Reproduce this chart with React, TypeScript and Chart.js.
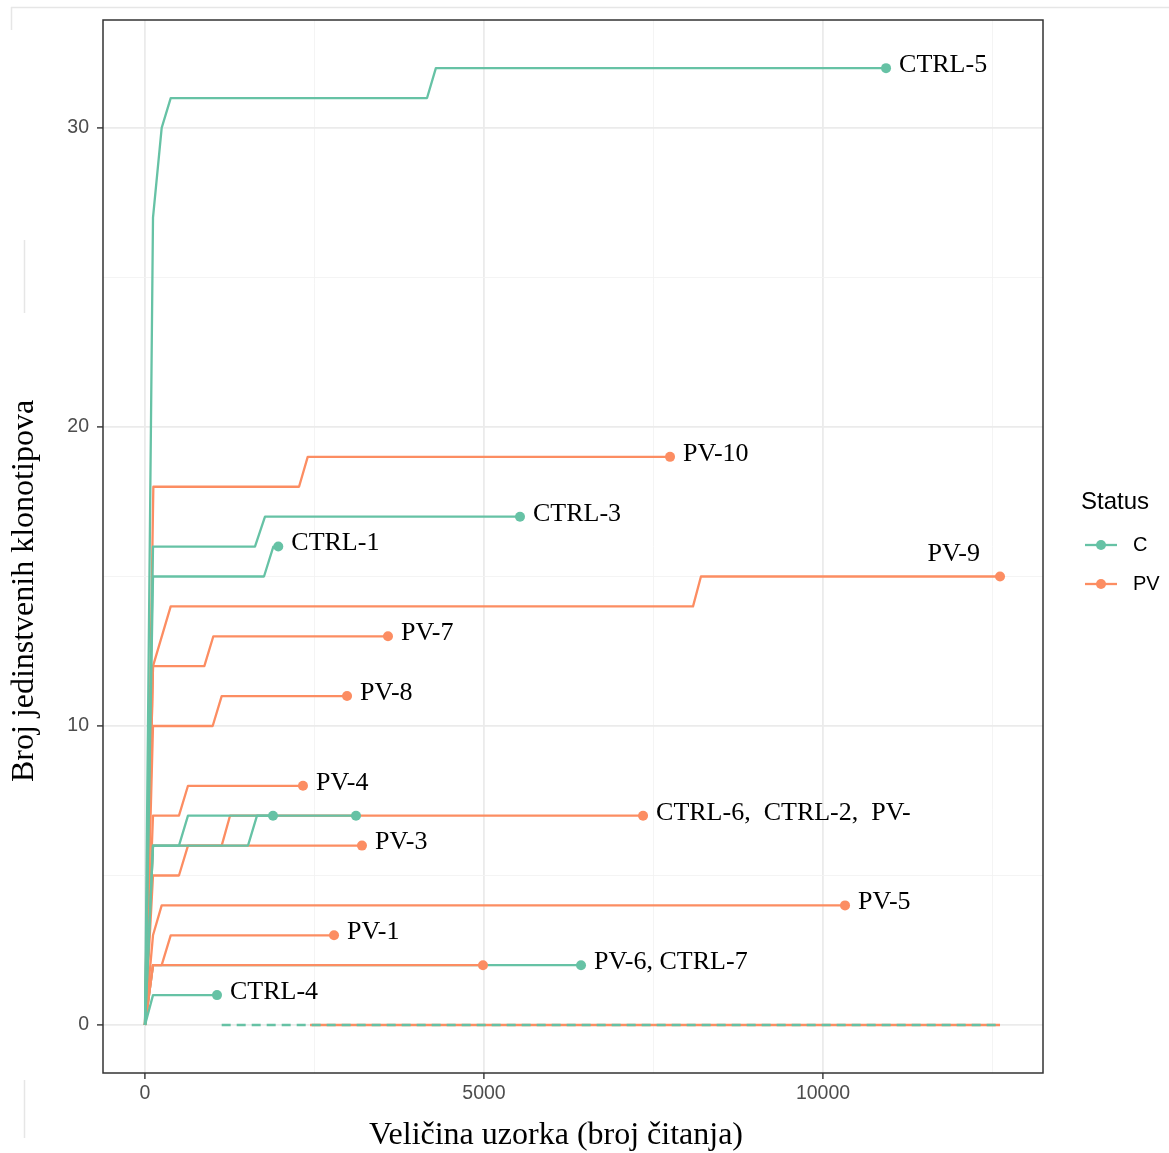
import React, { useEffect, useRef } from "react";
import { Chart, registerables } from "chart.js";

Chart.register(...registerables);

// ---------- data ----------
const ctrl5Reads = [0, 118, 246, 379, 4160, 4290, 10930];
const ctrl5Clones = [0, 27, 30, 31, 31, 32, 32];
const pv10Reads = [0, 123, 2272, 2400, 7744];
const pv10Clones = [0, 18, 18, 19, 19];
const ctrl3Reads = [0, 118, 1622, 1770, 5531];
const ctrl3Clones = [0, 16, 16, 17, 17];
const ctrl1Reads = [0, 118, 1755, 1893, 1966];
const ctrl1Clones = [0, 15, 15, 16, 16];
const pv9Reads = [0, 118, 379, 8083, 8200, 12611];
const pv9Clones = [0, 12, 14, 14, 15, 15];
const pv7Reads = [0, 118, 875, 1008, 3584];
const pv7Clones = [0, 12, 12, 13, 13];
const pv8Reads = [0, 118, 998, 1131, 2980];
const pv8Clones = [0, 10, 10, 11, 11];
const pv4Reads = [0, 118, 501, 634, 2330];
const pv4Clones = [0, 7, 7, 8, 8];
const ctrl2Reads = [0, 118, 501, 634, 1888];
const ctrl2Clones = [0, 6, 6, 7, 7];
const ctrl6Reads = [0, 118, 1519, 1652, 3112];
const ctrl6Clones = [0, 6, 6, 7, 7];
const pv2Reads = [0, 118, 1131, 1254, 7346];
const pv2Clones = [0, 6, 6, 7, 7];
const pv3Reads = [0, 118, 501, 634, 3200];
const pv3Clones = [0, 5, 5, 6, 6];
const pv5Reads = [0, 118, 246, 10325];
const pv5Clones = [0, 3, 4, 4];
const pv1Reads = [0, 118, 246, 379, 2788];
const pv1Clones = [0, 2, 2, 3, 3];
const pv6Reads = [0, 118, 4985];
const pv6Clones = [0, 2, 2];
const ctrl7Reads = [0, 118, 6431];
const ctrl7Clones = [0, 2, 2];
const ctrl4Reads = [0, 118, 1062];
const ctrl4Clones = [0, 1, 1];
// tails along zero after the curves end
const zeroTailCReads = [1131, 12611];
const zeroTailPVReads = [2434, 12611];
const zeroTailClones = [0, 0];

const xTickValues = [0, 2500, 5000, 7500, 10000, 12500];
const xMajorTicks = [0, 5000, 10000];
const yTickValues = [0, 5, 10, 15, 20, 25, 30];
const yMajorTicks = [0, 10, 20, 30];

const labelTexts = [
  "CTRL-5", "PV-10", "CTRL-3", "CTRL-1", "PV-9", "PV-7", "PV-8", "PV-4",
  "CTRL-6,  CTRL-2,  PV-", "PV-3", "PV-5", "PV-1", "PV-6, CTRL-7", "CTRL-4",
];
const labelReads = [10930, 7744, 5531, 1966, 12611, 3584, 2980, 2330, 7346, 3200, 10325, 2788, 6431, 1062];
const labelClones = [32, 19, 17, 16, 15, 13, 11, 8, 7, 6, 4, 3, 2, 1];

const legendTitle = "Status";
const legendNames = ["C", "PV"];

const xTitle = "Veličina uzorka (broj čitanja)";
const yTitle = "Broj jedinstvenih klonotipova";

// ---------- styling ----------
const GREEN = "#66c2a5";
const ORANGE = "#fc8d62";
const SERIF = "'Liberation Serif', 'Times New Roman', serif";
const SANS = "'Liberation Sans', Arial, sans-serif";

function pts(xs: number[], ys: number[]) {
  return xs.map((x, i) => ({ x, y: ys[i] }));
}

function curve(label: string, xs: number[], ys: number[], color: string) {
  const last = xs.length - 1;
  return {
    label,
    data: pts(xs, ys),
    borderColor: color,
    backgroundColor: color,
    borderWidth: 2.3,
    borderJoinStyle: "round" as const,
    pointRadius: (ctx: any) => (ctx.dataIndex === last ? 5 : 0),
    pointBorderWidth: 0,
    pointBackgroundColor: color,
    pointHoverRadius: 0,
    fill: false,
    tension: 0,
  };
}

const overlayPlugin = {
  id: "overlay",
  afterDraw(chart: any) {
    const { ctx, chartArea, scales } = chart;
    const xs = scales.x;
    const ys = scales.y;
    ctx.save();

    // faint outer frame lines
    ctx.strokeStyle = "#e6e6e6";
    ctx.lineWidth = 1.5;
    ctx.beginPath();
    ctx.moveTo(11, 7.5);
    ctx.lineTo(1169, 7.5);
    ctx.moveTo(11.5, 7);
    ctx.lineTo(11.5, 30);
    ctx.moveTo(24.5, 240);
    ctx.lineTo(24.5, 313);
    ctx.moveTo(24.5, 1080);
    ctx.lineTo(24.5, 1138);
    ctx.stroke();

    // panel border
    ctx.strokeStyle = "#333333";
    ctx.lineWidth = 1.5;
    ctx.strokeRect(
      chartArea.left,
      chartArea.top,
      chartArea.right - chartArea.left,
      chartArea.bottom - chartArea.top
    );

    // sample labels
    ctx.fillStyle = "#000";
    ctx.font = `26px ${SERIF}`;
    ctx.textBaseline = "middle";
    labelTexts.forEach((t, i) => {
      const px = xs.getPixelForValue(labelReads[i]);
      const py = ys.getPixelForValue(labelClones[i]);
      if (t === "PV-9") {
        ctx.textAlign = "right";
        ctx.fillText(t, px - 20, py - 22);
      } else {
        ctx.textAlign = "left";
        ctx.fillText(t, px + 13, py - 3);
      }
    });

    // axis titles
    ctx.font = `32px ${SERIF}`;
    ctx.textAlign = "center";
    ctx.textBaseline = "middle";
    ctx.fillText(xTitle, 556, 1136);
    ctx.save();
    ctx.translate(25, 591);
    ctx.rotate(-Math.PI / 2);
    ctx.fillText(yTitle, 0, 0);
    ctx.restore();

    // legend
    ctx.textAlign = "left";
    ctx.font = `24px ${SANS}`;
    ctx.fillStyle = "#000";
    ctx.fillText(legendTitle, 1081, 502);
    const colors = [GREEN, ORANGE];
    const ly = [545, 584];
    legendNames.forEach((n, i) => {
      ctx.strokeStyle = colors[i];
      ctx.lineWidth = 2.3;
      ctx.beginPath();
      ctx.moveTo(1085, ly[i]);
      ctx.lineTo(1117, ly[i]);
      ctx.stroke();
      ctx.fillStyle = colors[i];
      ctx.beginPath();
      ctx.arc(1101, ly[i], 5, 0, Math.PI * 2);
      ctx.fill();
      ctx.fillStyle = "#000";
      ctx.font = `20px ${SANS}`;
      ctx.fillText(n, 1133, ly[i]);
    });

    ctx.restore();
  },
};

export default function App() {
  const ref = useRef<HTMLCanvasElement | null>(null);

  useEffect(() => {
    document.body.style.margin = "0";
    const canvas = ref.current;
    if (!canvas) return;

    const datasets: any[] = [
      curve("CTRL-5", ctrl5Reads, ctrl5Clones, GREEN),
      curve("CTRL-3", ctrl3Reads, ctrl3Clones, GREEN),
      curve("CTRL-1", ctrl1Reads, ctrl1Clones, GREEN),
      curve("CTRL-2", ctrl2Reads, ctrl2Clones, GREEN),
      curve("CTRL-6", ctrl6Reads, ctrl6Clones, GREEN),
      curve("CTRL-4", ctrl4Reads, ctrl4Clones, GREEN),
      curve("PV-10", pv10Reads, pv10Clones, ORANGE),
      curve("PV-9", pv9Reads, pv9Clones, ORANGE),
      curve("PV-7", pv7Reads, pv7Clones, ORANGE),
      curve("PV-8", pv8Reads, pv8Clones, ORANGE),
      curve("PV-4", pv4Reads, pv4Clones, ORANGE),
      curve("PV-2", pv2Reads, pv2Clones, ORANGE),
      curve("PV-3", pv3Reads, pv3Clones, ORANGE),
      curve("PV-5", pv5Reads, pv5Clones, ORANGE),
      curve("PV-1", pv1Reads, pv1Clones, ORANGE),
      curve("PV-6", pv6Reads, pv6Clones, ORANGE),
      curve("CTRL-7", ctrl7Reads, ctrl7Clones, GREEN),
      {
        label: "C tail",
        data: pts(zeroTailCReads, zeroTailClones),
        borderColor: GREEN,
        borderWidth: 2.3,
        borderDash: [9, 6],
        pointRadius: 0,
        fill: false,
      },
      {
        label: "PV tail",
        data: pts(zeroTailPVReads, zeroTailClones),
        borderColor: ORANGE,
        borderWidth: 2.3,
        pointRadius: 0,
        fill: false,
      },
    ];

    const chart = new Chart(canvas, {
      type: "line",
      data: { datasets },
      options: {
        animation: false,
        responsive: false,
        devicePixelRatio: 1,
        events: [],
        layout: { padding: { top: 20, right: 126, left: 0, bottom: 0 } },
        plugins: {
          legend: { display: false },
          tooltip: { enabled: false },
          title: { display: false },
        },
        scales: {
          x: {
            type: "linear",
            min: -619.5,
            max: 13245,
            afterBuildTicks: (s: any) => {
              s.ticks = xTickValues.map((v) => ({ value: v }));
            },
            afterFit: (s: any) => {
              s.height = 80;
            },
            ticks: {
              autoSkip: false,
              maxRotation: 0,
              padding: 3,
              color: "#4d4d4d",
              font: { family: SANS, size: 19.5 },
              callback: (v: any) => (xMajorTicks.includes(Number(v)) ? String(v) : ""),
            },
            grid: {
              color: (c: any) => (xMajorTicks.includes(c.tick?.value) ? "#ebebeb" : "#f3f3f3"),
              lineWidth: (c: any) => (xMajorTicks.includes(c.tick?.value) ? 1.8 : 0.9),
              tickColor: (c: any) => (xMajorTicks.includes(c.tick?.value) ? "#333333" : "rgba(0,0,0,0)"),
              tickLength: 6,
              tickWidth: 1.4,
              drawTicks: true,
            },
            border: { display: false },
          },
          y: {
            type: "linear",
            min: -1.605,
            max: 33.61,
            afterBuildTicks: (s: any) => {
              s.ticks = yTickValues.map((v) => ({ value: v }));
            },
            afterFit: (s: any) => {
              s.width = 103;
            },
            ticks: {
              autoSkip: false,
              padding: 8,
              color: "#4d4d4d",
              font: { family: SANS, size: 19.5 },
              callback: (v: any) => (yMajorTicks.includes(Number(v)) ? String(v) : ""),
            },
            grid: {
              color: (c: any) => (yMajorTicks.includes(c.tick?.value) ? "#ebebeb" : "#f3f3f3"),
              lineWidth: (c: any) => (yMajorTicks.includes(c.tick?.value) ? 1.8 : 0.9),
              tickColor: (c: any) => (yMajorTicks.includes(c.tick?.value) ? "#333333" : "rgba(0,0,0,0)"),
              tickLength: 6,
              tickWidth: 1.4,
              drawTicks: true,
            },
            border: { display: false },
          },
        },
      },
      plugins: [overlayPlugin],
    } as any);

    return () => chart.destroy();
  }, []);

  return (
    <div style={{ position: "relative", width: 1169, height: 1153, background: "#fff" }}>
      <canvas ref={ref} width={1169} height={1153} style={{ display: "block" }} />
    </div>
  );
}
